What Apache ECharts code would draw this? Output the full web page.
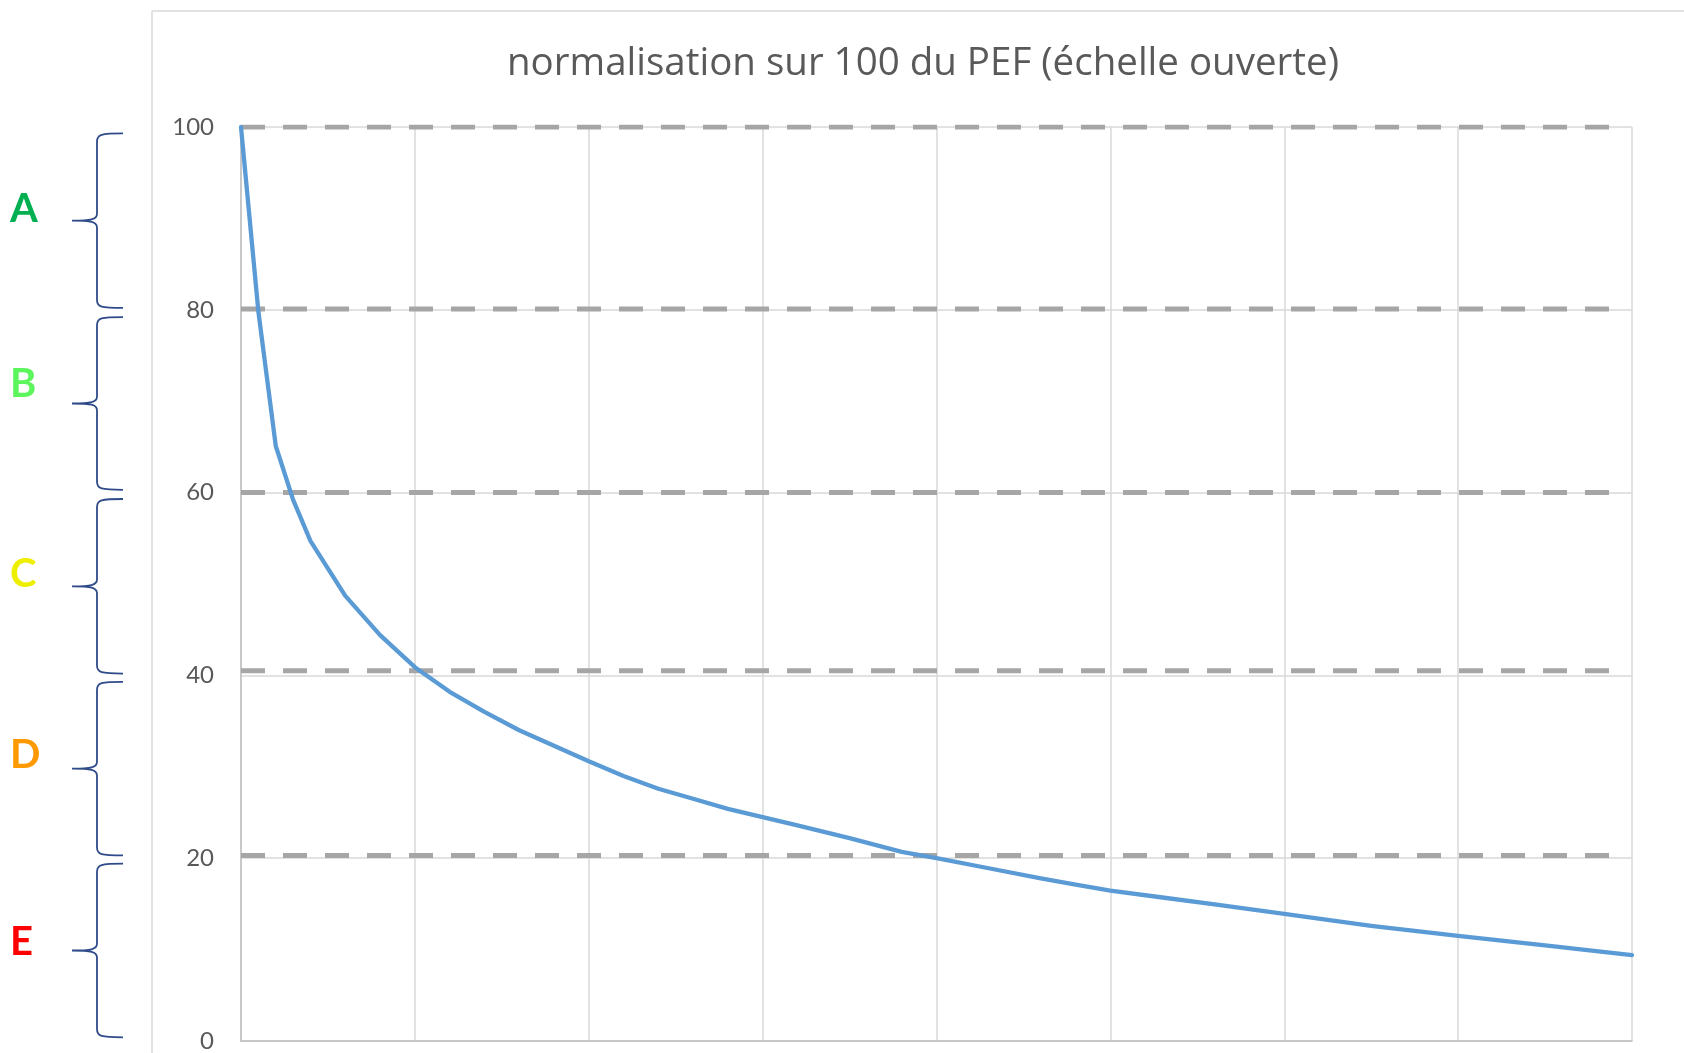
<!DOCTYPE html>
<html>
<head>
<meta charset="utf-8">
<script src="https://cdn.jsdelivr.net/npm/echarts@6/dist/echarts.min.js"></script>
<style>
html,body{margin:0;padding:0;background:#fff;}
#chart{width:1684px;height:1053px;}
</style>
</head>
<body>
<div id="chart"></div>
<script>
// ---- data ----
const titleText = 'normalisation sur 100 du PEF (échelle ouverte)';
const curveX = [0, 1, 2, 3, 4, 6, 8, 10, 12, 14, 16, 18, 20, 22, 24, 26, 28, 30, 32, 35, 38, 40, 43, 46, 48, 50, 53, 56, 60, 65, 70, 75, 80];
const curveY = [100, 79.8, 65.1, 59.2, 54.7, 48.7, 44.4, 40.9, 38.2, 36.0, 34.0, 32.3, 30.6, 29.0, 27.6, 26.5, 25.4, 24.5, 23.6, 22.2, 20.7, 20.0, 18.9, 17.8, 17.1, 16.45, 15.7, 14.95, 13.9, 12.6, 11.5, 10.45, 9.4];
const thresholdValues = [100, 80.1, 60, 40.5, 20.3];
const thresholdStartX = 0;
const thresholdEndX = 79;
const bandLabels = ['A', 'B', 'C', 'D', 'E'];
const bandColors = ['#00b050', '#5cf55c', '#eeee00', '#ff9900', '#ff0000'];
const bandTop = [99.3, 79.2, 59.3, 39.3, 19.4];
const bandBottom = [80.2, 60.3, 40.2, 20.3, 0.4];
const bandLabelY = [91.0, 71.9, 51.1, 31.3, 10.8];
const yTicks = [0, 20, 40, 60, 80, 100];

// ---- build ----
const FONT = 'Lato, "Open Sans", "Noto Sans", sans-serif';
const TITLE_FONT = '"Open Sans", Lato, "Noto Sans", sans-serif';
const curveData = curveX.map((x, i) => [x, curveY[i]]);
const thresholdSeries = thresholdValues.map(v => ({
  type: 'line',
  data: [[thresholdStartX, v], [thresholdEndX, v]],
  symbol: 'none',
  silent: true,
  z: 2,
  lineStyle: { color: '#a6a6a6', width: 5, type: [24, 18], cap: 'butt' }
}));
const braceData = bandLabels.map((l, i) => [0, bandTop[i], bandBottom[i], bandLabelY[i], i]);

const chart = echarts.init(document.getElementById('chart'), null, { renderer: 'canvas' });
chart.setOption({
  backgroundColor: '#ffffff',
  animation: false,
  title: {
    text: titleText,
    left: 918,
    top: 40,
    textAlign: 'center',
    textStyle: { fontFamily: TITLE_FONT, fontSize: 38.5, fontWeight: 'normal', color: '#595959' }
  },
  graphic: [
    { type: 'line', shape: { x1: 152, y1: 11, x2: 1684, y2: 11 }, style: { stroke: '#d9d9d9', lineWidth: 1.5 }, silent: true },
    { type: 'line', shape: { x1: 152, y1: 11, x2: 152, y2: 1053 }, style: { stroke: '#d9d9d9', lineWidth: 1.5 }, silent: true }
  ],
  grid: { left: 241, top: 127, right: 52, bottom: 10, containLabel: false },
  xAxis: {
    type: 'value', min: 0, max: 80, interval: 10,
    axisLabel: { show: false },
    axisTick: { show: false },
    axisLine: { show: true, lineStyle: { color: '#bfbfbf', width: 1.5 } },
    splitLine: { show: true, lineStyle: { color: '#d9d9d9', width: 1.5 } }
  },
  yAxis: {
    type: 'value', min: 0, max: 100, interval: 20,
    axisLabel: {
      color: '#595959', fontFamily: FONT, fontSize: 24, margin: 27,
      formatter: v => yTicks.indexOf(v) >= 0 ? String(v) : ''
    },
    axisTick: { show: false },
    axisLine: { show: true, lineStyle: { color: '#bfbfbf', width: 1.5 } },
    splitLine: { show: true, lineStyle: { color: '#d9d9d9', width: 1.5 } }
  },
  series: [
    ...thresholdSeries,
    {
      type: 'line',
      data: curveData,
      symbol: 'none',
      z: 5,
      lineStyle: { color: '#5b9bd5', width: 4.3, cap: 'round', join: 'round' }
    },
    {
      type: 'custom',
      coordinateSystem: 'cartesian2d',
      clip: false,
      silent: true,
      z: 6,
      data: braceData,
      renderItem: function (params, api) {
        const x0 = api.coord([0, 0])[0];
        const yTop = api.coord([0, api.value(1)])[1];
        const yBot = api.coord([0, api.value(2)])[1];
        const yLab = api.coord([0, api.value(3)])[1];
        const idx = api.value(4);
        const yMid = (yTop + yBot) / 2;
        const xEnd = x0 - 118;
        const xStem = x0 - 144;
        const xTip = x0 - 169;
        const path =
          'M' + xEnd + ' ' + yTop +
          ' C' + (xStem + 4) + ' ' + yTop + ' ' + xStem + ' ' + (yTop + 1) + ' ' + xStem + ' ' + (yTop + 8) +
          ' L' + xStem + ' ' + (yMid - 7) +
          ' C' + xStem + ' ' + (yMid - 1) + ' ' + (xStem - 6) + ' ' + yMid + ' ' + xTip + ' ' + yMid +
          ' M' + xTip + ' ' + yMid +
          ' C' + (xStem - 6) + ' ' + yMid + ' ' + xStem + ' ' + (yMid + 1) + ' ' + xStem + ' ' + (yMid + 7) +
          ' L' + xStem + ' ' + (yBot - 8) +
          ' C' + xStem + ' ' + (yBot - 1) + ' ' + (xStem + 4) + ' ' + yBot + ' ' + xEnd + ' ' + yBot;
        return {
          type: 'group',
          children: [
            {
              type: 'path',
              shape: { pathData: path },
              style: { fill: 'none', stroke: '#2f4b8a', lineWidth: 1.8 }
            },
            {
              type: 'text',
              style: {
                text: bandLabels[idx], x: x0 - 231, y: yLab,
                fill: bandColors[idx], fontFamily: FONT, fontSize: 40, fontWeight: 'bold',
                align: 'left', verticalAlign: 'middle'
              }
            }
          ]
        };
      }
    }
  ]
});
</script>
</body>
</html>
